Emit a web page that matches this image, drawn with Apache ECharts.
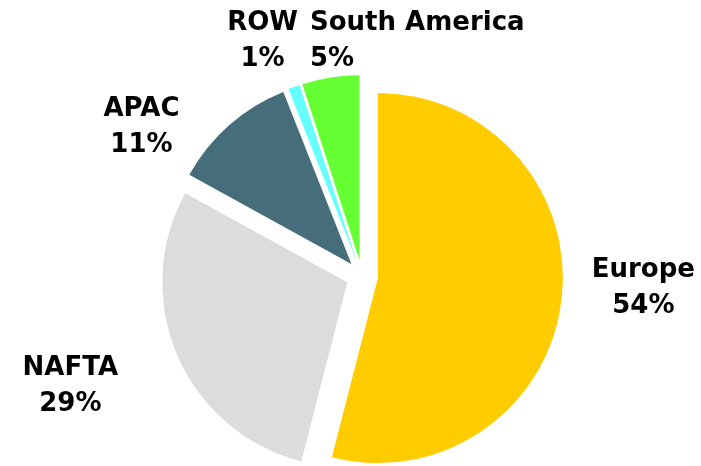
<!DOCTYPE html>
<html>
<head>
<meta charset="utf-8">
<script src="https://cdn.jsdelivr.net/npm/echarts@6/dist/echarts.min.js"></script>
<style>html,body{margin:0;padding:0;background:#fff}#c{width:701px;height:466px}</style>
</head>
<body>
<div id="c"></div>
<script>
const categories = ['Europe', 'NAFTA', 'APAC', 'ROW', 'South America'];
const shares = [54, 29, 11, 1, 5];
const colors = ['#FFCC00', '#DCDCDC', '#456D7A', '#66FFFF', '#66FF33'];
// label nudges relative to ECharts' own outside-label position
const labelDx = [67, -93, -76, -23, -14];
const labelDy = [-14, 26, 10, -36, -26];
const labelAlign = ['center', 'center', 'center', 'center', 'left'];

const chart = echarts.init(document.getElementById('c'), null, {renderer: 'canvas'});
chart.setOption({
  animation: false,
  series: [{
    type: 'pie',
    center: [362, 276],
    radius: 185,
    startAngle: 90,
    clockwise: true,
    selectedMode: 'multiple',
    selectedOffset: 16,
    avoidLabelOverlap: false,
    emphasis: {disabled: true},
    label: {
      show: true,
      position: 'outside',
      formatter: '{b}\n{d}%',
      fontFamily: 'DejaVu Sans',
      fontWeight: 'bold',
      fontSize: 26,
      lineHeight: 36,
      color: '#000'
    },
    labelLine: {show: false, length: 10, length2: 0},
    labelLayout: function (p) {
      return {
        dx: labelDx[p.dataIndex],
        dy: labelDy[p.dataIndex],
        align: labelAlign[p.dataIndex],
        hideOverlap: false,
        moveOverlap: null
      };
    },
    data: categories.map((c, i) => ({
      name: c, value: shares[i], selected: true,
      itemStyle: {color: colors[i]}
    }))
  }]
});
</script>
</body>
</html>
